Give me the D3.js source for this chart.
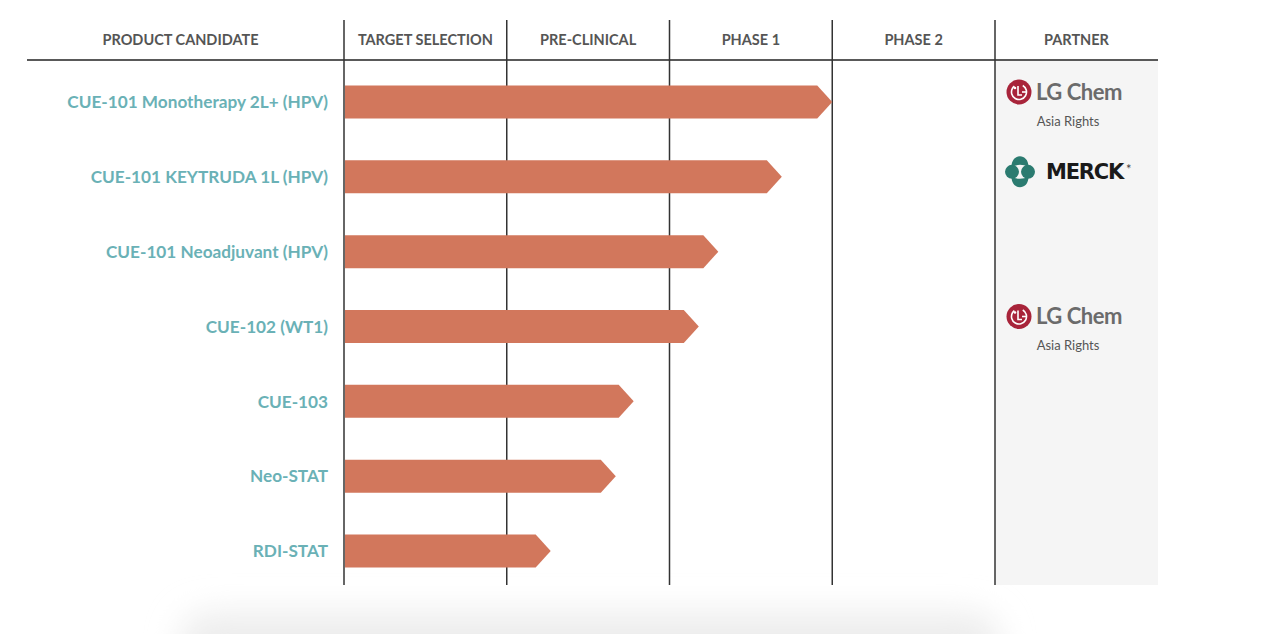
<!DOCTYPE html>
<html><head><meta charset="utf-8">
<script src="https://cdn.jsdelivr.net/npm/d3@7/dist/d3.min.js"></script>
<style>
html,body{margin:0;padding:0;background:#fff;}
svg{display:block;font-family:Lato, "Open Sans", sans-serif;}
</style></head>
<body>
<svg id="chart" width="1280" height="634"></svg>
<script>
const candidates = [
  "CUE-101 Monotherapy 2L+ (HPV)",
  "CUE-101 KEYTRUDA 1L (HPV)",
  "CUE-101 Neoadjuvant (HPV)",
  "CUE-102 (WT1)",
  "CUE-103",
  "Neo-STAT",
  "RDI-STAT"
];
// progress in phase units (0 = start of Target Selection, 4 = end of Phase 2)
const progress = [3.0, 2.69, 2.30, 2.18, 1.78, 1.67, 1.27];
const phases = ["TARGET SELECTION", "PRE-CLINICAL", "PHASE 1", "PHASE 2"];
const partners = ["LG Chem", "MERCK", "", "LG Chem", "", "", ""];
const partnerNotes = ["Asia Rights", "", "", "Asia Rights", "", "", ""];
const headerLeft = "PRODUCT CANDIDATE";
const headerRight = "PARTNER";

(function(){
const svg = d3.select("#chart");
const gTop = 20, headerY = 60, gBottom = 585, gLeft = 27, gRight = 1158;
const x = d3.scaleLinear().domain([0, phases.length]).range([344, 995]);
const partnerX0 = x(phases.length), partnerX1 = gRight;
const y = d3.scalePoint().domain(d3.range(candidates.length)).range([102, 551]);
const barH = 33, tipW = 15;

// bottom soft shadow
const defs = svg.append("defs");
const f = defs.append("filter").attr("id","blur").attr("x","-20%").attr("y","-100%").attr("width","140%").attr("height","300%");
f.append("feGaussianBlur").attr("stdDeviation", 16);
svg.append("rect").attr("x", 180).attr("y", 612).attr("width", 820).attr("height", 70)
  .attr("rx", 30).attr("fill", "#ededed").attr("filter", "url(#blur)");

// partner column background
svg.append("rect").attr("x", partnerX0).attr("y", headerY)
  .attr("width", partnerX1 - partnerX0).attr("height", gBottom - headerY).attr("fill", "#f5f5f5");

// header texts
const hdr = svg.append("g").attr("font-size", 14.5).attr("font-weight", 700).attr("fill", "#555").attr("text-anchor","middle");
hdr.append("text").attr("x", (gLeft + x(0)) / 2 - 5).attr("y", 45).text(headerLeft);
phases.forEach((p, i) => {
  hdr.append("text").attr("x", (x(i) + x(i+1)) / 2).attr("y", 45).text(p);
});
hdr.append("text").attr("x", (partnerX0 + partnerX1) / 2).attr("y", 45).text(headerRight);

// grid lines
svg.append("line").attr("x1", gLeft).attr("x2", gRight).attr("y1", headerY).attr("y2", headerY)
  .attr("stroke", "#222").attr("stroke-width", 1.5);
svg.selectAll("line.v").data(d3.range(phases.length + 1)).join("line").attr("class","v")
  .attr("x1", d => x(d)).attr("x2", d => x(d)).attr("y1", gTop).attr("y2", gBottom)
  .attr("stroke", "#333").attr("stroke-width", 1.5);

// bars
svg.selectAll("path.bar").data(progress).join("path").attr("class","bar")
  .attr("fill", "#d2775c")
  .attr("d", (d, i) => {
    const x0 = x(0) + 1, x1 = x(d), yc = y(i);
    const p = d3.path();
    p.moveTo(x0, yc - barH/2);
    p.lineTo(x1 - tipW, yc - barH/2);
    p.lineTo(x1, yc);
    p.lineTo(x1 - tipW, yc + barH/2);
    p.lineTo(x0, yc + barH/2);
    p.closePath();
    return p.toString();
  });

// labels
svg.selectAll("text.lab").data(candidates).join("text").attr("class","lab")
  .attr("x", 328).attr("y", (d, i) => y(i)).attr("dy", "0.36em")
  .attr("text-anchor", "end").attr("font-size", 17.2).attr("font-weight", 700)
  .attr("fill", "#6ab1b6").text(d => d);

// partner logos
partners.forEach((p, i) => {
  const yc = y(i);
  if (p === "LG Chem") {
    const g = svg.append("g").attr("transform", `translate(1019,${yc - 10})`);
    g.append("circle").attr("r", 12.5).attr("fill", "#a8243a");
    g.append("circle").attr("r", 7.5).attr("fill", "none").attr("stroke", "#fff").attr("stroke-width", 1.6)
      .attr("stroke-dasharray", "38 9").attr("transform", "rotate(-60)");
    g.append("circle").attr("cx", -4).attr("cy", -4).attr("r", 1.3).attr("fill", "#fff");
    g.append("path").attr("d", "M-1,-6 V3 H3").attr("fill", "none").attr("stroke", "#fff").attr("stroke-width", 1.6);
    g.append("path").attr("d", "M3,0 H8").attr("stroke", "#fff").attr("stroke-width", 1.6);
    svg.append("text").attr("x", 1036).attr("y", yc - 10).attr("dy", "0.36em")
      .attr("font-size", 22).attr("font-weight", 700).attr("fill", "#6b6b6b").attr("letter-spacing", -0.5).text(p);
    svg.append("text").attr("x", 1068).attr("y", yc + 19).attr("dy", "0.36em").attr("text-anchor","middle")
      .attr("font-size", 13).attr("fill", "#555").text(partnerNotes[i]);
  } else if (p === "MERCK") {
    const g = svg.append("g").attr("transform", `translate(1020,${yc - 5})`).attr("fill", "#2b7b70");
    g.append("circle").attr("cx", -8).attr("cy", 0).attr("r", 7);
    g.append("circle").attr("cx", 8).attr("cy", 0).attr("r", 7);
    g.append("path").attr("d", "M-8.5,-5 C-8.5,-19 8.5,-19 8.5,-5 Q0,-9 -8.5,-5 Z");
    g.append("path").attr("d", "M-8.5,5 C-8.5,19 8.5,19 8.5,5 Q0,9 -8.5,5 Z");
    svg.append("text").attr("x", 1046).attr("y", yc - 5).attr("dy", "0.36em")
      .attr("font-family", "'DejaVu Sans', sans-serif")
      .attr("font-size", 21).attr("font-weight", 700).attr("fill", "#1a1a1a").attr("letter-spacing", -1.2).text(p);
    svg.append("text").attr("x", 1126).attr("y", yc - 3).attr("font-size", 13).attr("fill", "#444").text("*");
  }
});
})();
</script>
</body></html>
